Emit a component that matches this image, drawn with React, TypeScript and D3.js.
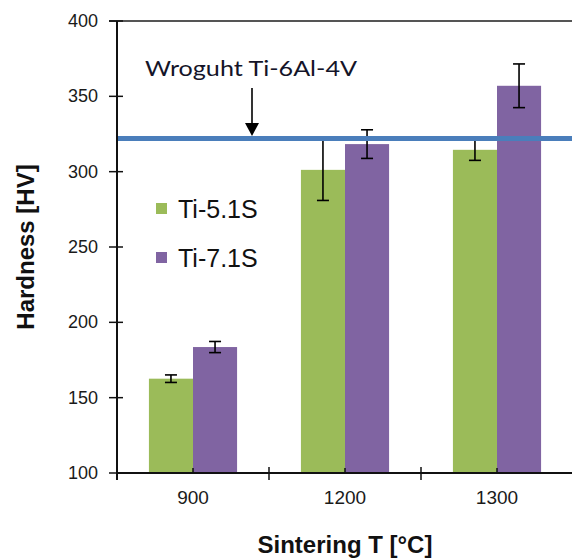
import React from 'react';
import * as d3 from 'd3';

const categories = ['900', '1200', '1300'];
const seriesNames = ['Ti-5.1S', 'Ti-7.1S'];
const ti51 = [162.6, 301.2, 314.5];
const ti51Err = [2.5, 20.3, 7];
const ti71 = [183.6, 318.3, 357];
const ti71Err = [3.7, 9.5, 14.5];
const yTicks = [100, 150, 200, 250, 300, 350, 400];
const wroughtValue = 322;
const wroughtLabel = 'Wroguht Ti-6Al-4V';

const colors = ['#9bbb59', '#8064a2'];
const W = 572, H = 559;
const left = 117, right = 573, top = 21, bottom = 473;

export default function App() {
  const x = d3.scaleBand().domain(categories).range([left, right]).paddingInner(0.42).paddingOuter(0.21);
  const xs = d3.scaleBand().domain(seriesNames).range([0, x.bandwidth()]);
  const y = d3.scaleLinear().domain([100, 400]).range([bottom, top]);
  const step = x.step();
  const boundaries = d3.range(categories.length + 1).map(i => left + i * step);

  const series = [
    { name: seriesNames[0], values: ti51, err: ti51Err, color: colors[0] },
    { name: seriesNames[1], values: ti71, err: ti71Err, color: colors[1] },
  ];

  const arrowX = 252;
  const font = '"Liberation Sans", Arial, sans-serif';

  return (
    <svg width={W} height={H} style={{ position: 'absolute', left: 0, top: 0, background: '#fff' }}>
      {/* bars */}
      {series.map(s => s.values.map((v, i) => (
        <rect key={s.name + i}
          x={x(categories[i])! + xs(s.name)!}
          y={y(v)}
          width={xs.bandwidth()}
          height={y(100) - y(v)}
          fill={s.color} />
      )))}

      {/* error bars */}
      {series.map(s => s.values.map((v, i) => {
        const cx = x(categories[i])! + xs(s.name)! + xs.bandwidth() / 2;
        const y1 = y(v + s.err[i]), y2 = y(v - s.err[i]);
        return (
          <g key={'e' + s.name + i} stroke="#000" strokeWidth={1.6}>
            <line x1={cx} x2={cx} y1={y1} y2={y2} />
            <line x1={cx - 6} x2={cx + 6} y1={y1} y2={y1} />
            <line x1={cx - 6} x2={cx + 6} y1={y2} y2={y2} />
          </g>
        );
      }))}

      {/* wrought reference line, drawn over the error bars */}
      <line x1={left} x2={W} y1={y(wroughtValue)} y2={y(wroughtValue)} stroke="#4a7ebb" strokeWidth={5} />

      {/* top border */}
      <line x1={left - 8} x2={W} y1={top} y2={top} stroke="#555" strokeWidth={2} />

      {/* y axis */}
      <line x1={left} x2={left} y1={top} y2={bottom + 7} stroke="#111" strokeWidth={2} />
      {yTicks.map(t => (
        <g key={'yt' + t}>
          <line x1={left - 8} x2={left + 6} y1={y(t)} y2={y(t)} stroke="#111" strokeWidth={1.5} />
          <text x={98} y={y(t) + 6} textAnchor="end" fontFamily={font} fontSize={18} fill="#1a1a1a">{t}</text>
        </g>
      ))}

      {/* x axis */}
      <line x1={left} x2={W} y1={bottom} y2={bottom} stroke="#111" strokeWidth={2} />
      {boundaries.map((b, i) => (
        <line key={'xb' + i} x1={b} x2={b} y1={bottom - 6} y2={bottom + 7} stroke="#111" strokeWidth={1.5} />
      ))}
      {categories.map(c => {
        const cx = x(c)! + x.bandwidth() / 2;
        return (
          <g key={'xc' + c}>
            <line x1={cx} x2={cx} y1={bottom - 5} y2={bottom} stroke="#111" strokeWidth={1.5} />
            <text x={cx} y={504} textAnchor="middle" fontFamily={font} fontSize={19} fill="#1a1a1a">{c}</text>
          </g>
        );
      })}

      {/* axis titles */}
      <text x={(left + right) / 2} y={553} textAnchor="middle" fontFamily={font} fontWeight="bold" fontSize={24} fill="#111">Sintering T [°C]</text>
      <text transform={`translate(34, ${(top + bottom) / 2}) rotate(-90)`} textAnchor="middle" fontFamily={font} fontWeight="bold" fontSize={24} fill="#111">Hardness [HV]</text>

      {/* legend */}
      {series.map((s, i) => (
        <g key={'lg' + s.name}>
          <rect x={156} y={203 + i * 49} width={11} height={11} fill={s.color} />
          <text x={178} y={218 + i * 49} fontFamily={font} fontSize={25} fill="#111">{s.name}</text>
        </g>
      ))}

      {/* annotation */}
      <text x={145} y={76} fontFamily="Lato, 'Open Sans', sans-serif" fontSize={21} fill="#141428"
        textLength={212} lengthAdjust="spacingAndGlyphs">{wroughtLabel}</text>
      <line x1={arrowX} x2={arrowX} y1={88} y2={125} stroke="#000" strokeWidth={1.6} />
      <path d={`M${arrowX - 7},${123} L${arrowX + 7},${123} L${arrowX},${136} Z`} fill="#000" />
    </svg>
  );
}
